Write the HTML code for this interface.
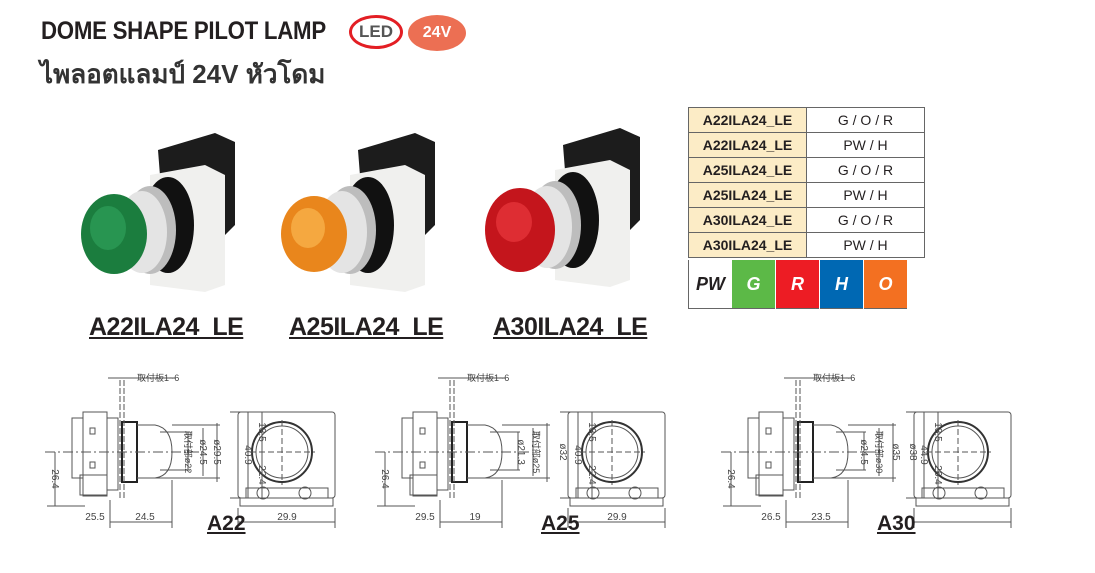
<!DOCTYPE html>
<html><head><meta charset="utf-8"><style>
html,body{margin:0;padding:0;background:#fff;}
body{width:1095px;height:573px;overflow:hidden;position:relative;font-family:"Liberation Sans",sans-serif;}
.t1{position:absolute;left:41px;top:17px;font-size:25px;font-weight:bold;color:#231f20;letter-spacing:-0.3px;white-space:nowrap;transform:scaleX(0.89);transform-origin:left;}
.t2{position:absolute;left:40px;top:54px;font-size:26px;font-weight:bold;color:#333;font-family:"Liberation Sans","Noto Sans CJK SC",sans-serif;white-space:nowrap;}
.led{position:absolute;left:349px;top:15px;width:54px;height:34px;border:3px solid #e31e24;border-radius:50%;box-sizing:border-box;font-size:17px;font-weight:bold;color:#555;text-align:center;line-height:28px;}
.v24{position:absolute;left:408px;top:15px;width:58px;height:36px;background:#ec6f53;border-radius:50%;font-size:16px;font-weight:bold;color:#fff;text-align:center;line-height:36px;}
table{position:absolute;left:688px;top:107px;border-collapse:collapse;font-size:14px;}
td{border:1px solid #666;height:24px;padding:0;}
td.a{width:117px;background:#fcecc6;font-weight:bold;text-align:center;color:#231f20}
td.b{width:117px;text-align:center;color:#231f20;border-right:1px solid #666}
.sw{position:absolute;top:260px;height:48px;width:43px;font-size:18px;font-weight:bold;font-style:italic;text-align:center;line-height:48px;color:#fff;border-bottom:1px solid #666}
.nm{position:absolute;top:313px;font-size:25px;font-weight:bold;color:#231f20;text-decoration:underline;letter-spacing:-0.5px;}
.big{position:absolute;font-size:21px;font-weight:bold;color:#231f20;text-decoration:underline;top:512px;}
</style></head><body>
<div class="t1">DOME SHAPE PILOT LAMP</div>
<div class="t2">ไพลอตแลมป์ 24V หัวโดม</div>
<div class="led">LED</div>
<div class="v24">24V</div>
<table>
<tr><td class="a">A22ILA24_LE</td><td class="b">G / O / R</td></tr>
<tr><td class="a">A22ILA24_LE</td><td class="b">PW / H</td></tr>
<tr><td class="a">A25ILA24_LE</td><td class="b">G / O / R</td></tr>
<tr><td class="a">A25ILA24_LE</td><td class="b">PW / H</td></tr>
<tr><td class="a">A30ILA24_LE</td><td class="b">G / O / R</td></tr>
<tr><td class="a">A30ILA24_LE</td><td class="b">PW / H</td></tr>
</table>
<div class="sw" style="left:688px;background:#fff;color:#231f20;border-left:1px solid #666">PW</div>
<div class="sw" style="left:732px;background:#5cb947">G</div>
<div class="sw" style="left:776px;background:#ed1c24">R</div>
<div class="sw" style="left:820px;background:#0068b3">H</div>
<div class="sw" style="left:864px;background:#f37021">O</div>

<svg width="1095" height="573" style="position:absolute;left:0;top:0">
<defs>
<g id="lamp">
  <polygon points="158,150 215,133 235,142 235,225 220,240 165,240" fill="#1c1c1c"/>
  <polygon points="150,175 205,165 225,175 225,285 205,292 150,285" fill="#f0f0ee"/>
  <ellipse cx="168" cy="225" rx="26" ry="48" fill="#111"/>
  <ellipse cx="150" cy="230" rx="26" ry="44" fill="#bdbdbd"/>
  <ellipse cx="142" cy="232" rx="25" ry="41" fill="#e4e4e4"/>
</g>
<g id="dw" fill="none" stroke="#555" stroke-width="1">
  <rect x="83" y="412" width="24" height="84"/>
  <rect x="72" y="418" width="11" height="60"/>
  <rect x="90" y="428" width="5" height="6"/><rect x="90" y="462" width="5" height="6"/>
  <rect x="80" y="475" width="27" height="20"/>
  <rect x="107" y="418" width="11" height="72"/>
  <rect x="122" y="422" width="15" height="60" stroke="#222" stroke-width="2"/>
  <path d="M137,425 L155,425 Q172,428 172,452 Q172,476 155,478 L137,478"/>
  <path d="M45,452 H200" stroke-dasharray="10,3,2,3"/>
  <path d="M120,380 V500 M124,380 V500" stroke-dasharray="6,2"/>
  <path d="M108,378 H176 M172,425 H220 M155,478 H220 M160,432 H190 M160,470 H190"/>
  <path d="M188,432 V470 M203,428 V476 M217,423 V482"/>
  <path d="M55,452 V506 M47,506 H85 M110,500 V528 M172,480 V528 M110,522 H172"/>
  <rect x="238" y="412" width="97" height="86" rx="3"/>
  <rect x="240" y="498" width="93" height="8"/>
  <circle cx="282" cy="452" r="30" stroke="#333" stroke-width="2"/>
  <circle cx="282" cy="452" r="26"/>
  <path d="M250,452 H315 M282,420 V485" stroke-dasharray="6,3"/>
  <rect x="246" y="488" width="82" height="10"/>
  <circle cx="263" cy="493" r="6"/><circle cx="305" cy="493" r="6"/>
  <path d="M230,412 H260 M230,498 H260 M248,412 V498 M262,412 V498 M238,508 V528 M335,508 V528 M238,522 H335"/>
</g>
</defs>
<use href="#lamp" transform="translate(0,0)"/>
<ellipse cx="114" cy="234" rx="33" ry="40" fill="#1b7d3e"/>
<ellipse cx="108" cy="228" rx="18" ry="22" fill="#2ea05a" opacity=".7"/>
<use href="#lamp" transform="translate(200,0)"/>
<ellipse cx="314" cy="234" rx="33" ry="38" fill="#e9861c"/>
<ellipse cx="308" cy="228" rx="17" ry="20" fill="#f8b04a" opacity=".8"/>
<use href="#lamp" transform="translate(405,-5)"/>
<ellipse cx="520" cy="230" rx="35" ry="42" fill="#c4151c"/>
<ellipse cx="514" cy="222" rx="18" ry="20" fill="#e5333a" opacity=".8"/>

<use href="#dw"/>
<use href="#dw" transform="translate(330,0)"/>
<use href="#dw" transform="translate(676,0)"/>
<g font-family="Liberation Sans,Noto Sans CJK JP,sans-serif" font-size="10" fill="#444">
<text x="137" y="381" font-size="9">取付板1~6</text>
<text x="467" y="381" font-size="9">取付板1~6</text>
<text x="813" y="381" font-size="9">取付板1~6</text>
<g text-anchor="middle">
<text x="95" y="520">25.5</text><text x="145" y="520">24.5</text><text x="287" y="520">29.9</text>
<text x="425" y="520">29.5</text><text x="475" y="520">19</text><text x="617" y="520">29.9</text>
<text x="771" y="520">26.5</text><text x="821" y="520">23.5</text>
</g>
<g text-anchor="middle">
<text transform="translate(52,479) rotate(90)">26.4</text>
<text transform="translate(382,479) rotate(90)">26.4</text>
<text transform="translate(728,479) rotate(90)">26.4</text>
<text transform="translate(185,452) rotate(90)" font-size="9">取付部ø22</text>
<text transform="translate(200,452) rotate(90)">ø24.5</text>
<text transform="translate(214,452) rotate(90)">ø29.5</text>
<text transform="translate(518,452) rotate(90)">ø21.3</text>
<text transform="translate(533,452) rotate(90)" font-size="9">取付部ø25</text>
<text transform="translate(560,452) rotate(90)">ø32</text>
<text transform="translate(861,452) rotate(90)">ø24.5</text>
<text transform="translate(876,452) rotate(90)" font-size="9">取付部ø30</text>
<text transform="translate(893,452) rotate(90)">ø35</text>
<text transform="translate(910,452) rotate(90)">ø38</text>
<text transform="translate(245,455) rotate(90)">40.9</text>
<text transform="translate(259,432) rotate(90)">18.5</text>
<text transform="translate(259,475) rotate(90)">22.4</text>
<text transform="translate(575,455) rotate(90)">40.9</text>
<text transform="translate(589,432) rotate(90)">18.5</text>
<text transform="translate(589,475) rotate(90)">22.4</text>
<text transform="translate(921,455) rotate(90)">44.9</text>
<text transform="translate(935,432) rotate(90)">18.5</text>
<text transform="translate(935,475) rotate(90)">26.4</text>
</g></g>
</svg>
<div class="nm" style="left:89px">A22ILA24_LE</div>
<div class="nm" style="left:289px">A25ILA24_LE</div>
<div class="nm" style="left:493px">A30ILA24_LE</div>
<div class="big" style="left:207px">A22</div>
<div class="big" style="left:541px">A25</div>
<div class="big" style="left:877px">A30</div>
</body></html>
